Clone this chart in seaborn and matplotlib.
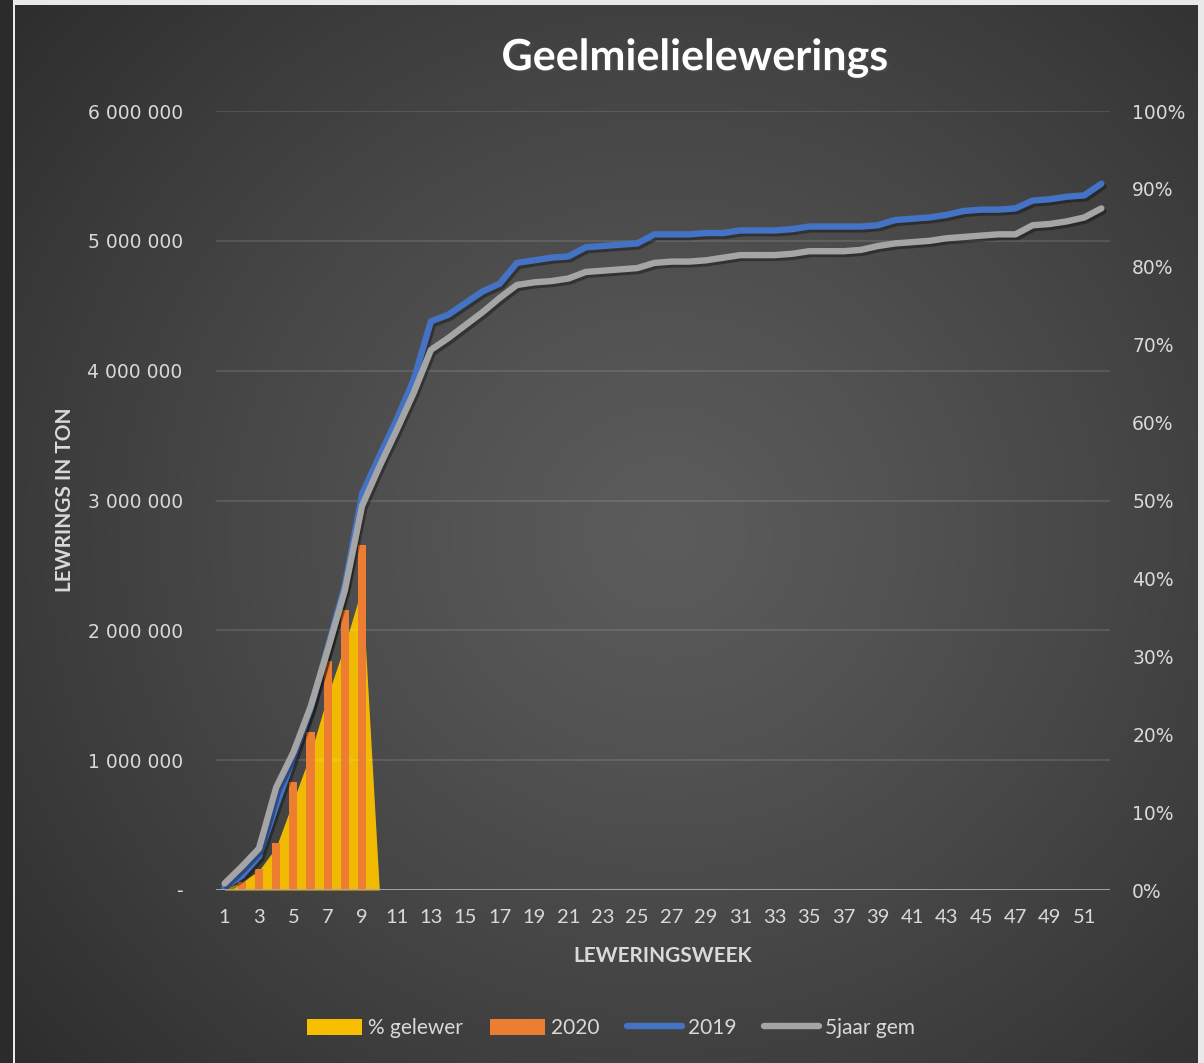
import numpy as np
import pandas as pd
import seaborn as sns
import matplotlib.pyplot as plt
import matplotlib.patheffects as pe
from matplotlib.patches import Patch
from matplotlib.lines import Line2D
from matplotlib.ticker import FuncFormatter

# data (tons in millions, % as fraction)
weeks = list(range(1, 53))
pct_weeks = list(range(1, 11))
pct_gelewer = [0.002, 0.010, 0.025, 0.055, 0.115, 0.175, 0.250, 0.315, 0.389, 0.0]
bar_weeks = list(range(1, 10))
lewerings_2020 = [0.01, 0.06, 0.16, 0.36, 0.83, 1.22, 1.76, 2.16, 2.66]
lewerings_2019 = [0.02, 0.11, 0.26, 0.65, 1.02, 1.39, 1.87, 2.35, 3.05, 3.34,
                  3.62, 3.93, 4.38, 4.43, 4.52, 4.61, 4.67, 4.83, 4.85, 4.87,
                  4.88, 4.95, 4.96, 4.97, 4.98, 5.05, 5.05, 5.05, 5.06, 5.06,
                  5.08, 5.08, 5.08, 5.09, 5.11, 5.11, 5.11, 5.11, 5.12, 5.16,
                  5.17, 5.18, 5.20, 5.23, 5.24, 5.24, 5.25, 5.31, 5.32, 5.34,
                  5.35, 5.44]
gem_5jaar = [0.05, 0.18, 0.32, 0.79, 1.06, 1.41, 1.85, 2.31, 2.96, 3.26,
             3.54, 3.83, 4.16, 4.25, 4.35, 4.45, 4.56, 4.66, 4.68, 4.69,
             4.71, 4.76, 4.77, 4.78, 4.79, 4.83, 4.84, 4.84, 4.85, 4.87,
             4.89, 4.89, 4.89, 4.90, 4.92, 4.92, 4.92, 4.93, 4.96, 4.98,
             4.99, 5.00, 5.02, 5.03, 5.04, 5.05, 5.05, 5.12, 5.13, 5.15,
             5.18, 5.25]

YELLOW = '#f7bf00'
ORANGE = '#ed7d31'
BLUE = '#4472c4'
GREY = '#a5a5a5'
TXT = '#d9d9d9'

sns.set_theme(style='dark')
plt.rcParams['font.family'] = ['Lato', 'DejaVu Sans']

fig = plt.figure(figsize=(12.04, 10.63), dpi=100, facecolor='#e9e9e9')

# dark left strip + chart area with radial gradient
strip = fig.add_axes([0, 0, 13 / 1204, 1])
strip.set_axis_off()
strip.add_patch(plt.Rectangle((0, 0), 1, 1, color='#2b2b2b', transform=strip.transAxes))

bg = fig.add_axes([15 / 1204, 0, (1198 - 15) / 1204, 1 - 5 / 1063])
bg.set_axis_off()
yy, xx = np.mgrid[0:1:400j, 0:1:450j]
r = np.sqrt(((xx - 0.55) / 0.75) ** 2 + ((yy - 0.5) / 0.8) ** 2)
r = np.clip(r, 0, 1)
shade = 0.36 - 0.19 * r ** 1.2
bg.imshow(np.dstack([shade] * 3), extent=[0, 1, 0, 1], aspect='auto', origin='lower')

left, right = 216 / 1204, 1110 / 1204
bottom, top = 1 - 890 / 1063, 1 - 111 / 1063
ax = fig.add_axes([left, bottom, right - left, top - bottom])
ax2 = ax.twinx()
ax.set_zorder(3)
ax2.set_zorder(2)
ax.patch.set_visible(False)
ax2.patch.set_visible(False)

# % gelewer area on the secondary axis (behind)
ax2.fill_between(pct_weeks, 0, pct_gelewer, color=YELLOW, lw=0, alpha=0.97)
ax2.set_ylim(0, 1)
ax2.set_yticks(np.arange(0, 1.01, 0.1))
ax2.yaxis.set_major_formatter(FuncFormatter(lambda v, p: f'{v:.0%}'))

# 2020 bars
bars = pd.DataFrame({'week': bar_weeks, 'ton': [v * 1e6 for v in lewerings_2020]})
sns.barplot(data=bars, x='week', y='ton', native_scale=True, width=0.48,
            color=ORANGE, saturation=1, ax=ax, zorder=3, linewidth=0)

# lines
lines = pd.DataFrame({
    'week': weeks * 2,
    'ton': [v * 1e6 for v in lewerings_2019] + [v * 1e6 for v in gem_5jaar],
    'reeks': ['2019'] * 52 + ['5jaar gem'] * 52,
})
sns.lineplot(data=lines, x='week', y='ton', hue='reeks',
             palette={'2019': BLUE, '5jaar gem': GREY}, lw=4.6,
             ax=ax, legend=False, zorder=4)
for ln in ax.lines:
    ln.set_solid_capstyle('round')
    ln.set_path_effects([pe.SimpleLineShadow(offset=(1.5, -2), alpha=0.35, shadow_color='black'),
                         pe.Normal()])

ax.set_xlim(0.5, 52.5)
ax.set_ylim(0, 6e6)
ax.set_yticks(np.arange(0, 6.01e6, 1e6))
ax.yaxis.set_major_formatter(FuncFormatter(
    lambda v, p: '-' if v == 0 else f'{int(v):,}'.replace(',', ' ')))
ax.set_xticks(list(range(1, 53, 2)))
ax.set_xticklabels([str(w) for w in range(1, 53, 2)])

ax.grid(axis='y', color='white', alpha=0.12, lw=1.3)
ax.grid(axis='x', visible=False)
ax2.grid(False)
ax.set_axisbelow(True)
ax.axhline(0, color='#a9a9a9', lw=2, zorder=5)

for a in (ax, ax2):
    for s in a.spines.values():
        s.set_visible(False)
ax.tick_params(axis='y', length=0, pad=24, labelsize=13.5, labelcolor=TXT)
ax.tick_params(axis='x', length=0, pad=14, labelsize=14.5, labelcolor=TXT)
ax2.tick_params(axis='y', length=0, pad=16, labelsize=13.5, labelcolor=TXT)
for lab in ax.get_yticklabels() + ax2.get_yticklabels():
    lab.set_family(['DejaVu Sans'])

ax.set_xlabel('LEWERINGSWEEK', color=TXT, fontsize=15, fontweight='bold', labelpad=14)
ax.set_ylabel('')
ax2.set_ylabel('')
fig.text(65 / 1204, 1 - 500 / 1063, 'LEWRINGS IN TON', rotation=90, ha='center', va='center',
         color=TXT, fontsize=15, fontweight='bold')

fig.text(0.577, 0.946, 'Geelmielielewerings', ha='center', va='center',
         fontsize=31, fontweight='bold', color='white',
         path_effects=[pe.withSimplePatchShadow(offset=(1.5, -1.5), alpha=0.6)])

handles = [Patch(facecolor=YELLOW, edgecolor='none'),
           Patch(facecolor=ORANGE, edgecolor='none'),
           Line2D([0], [0], color=BLUE, lw=4.6, solid_capstyle='round'),
           Line2D([0], [0], color=GREY, lw=4.6, solid_capstyle='round')]
leg = fig.legend(handles, ['% gelewer', '2020', '2019', '5jaar gem'],
                 loc='center', bbox_to_anchor=(611 / 1204, 1 - 1028 / 1063), ncol=4,
                 frameon=False, fontsize=15, handlelength=2.65, handleheight=0.8,
                 handletextpad=0.3, columnspacing=1.3)
for t in leg.get_texts():
    t.set_color(TXT)

fig.savefig('out.png', dpi=100, facecolor=fig.get_facecolor())
